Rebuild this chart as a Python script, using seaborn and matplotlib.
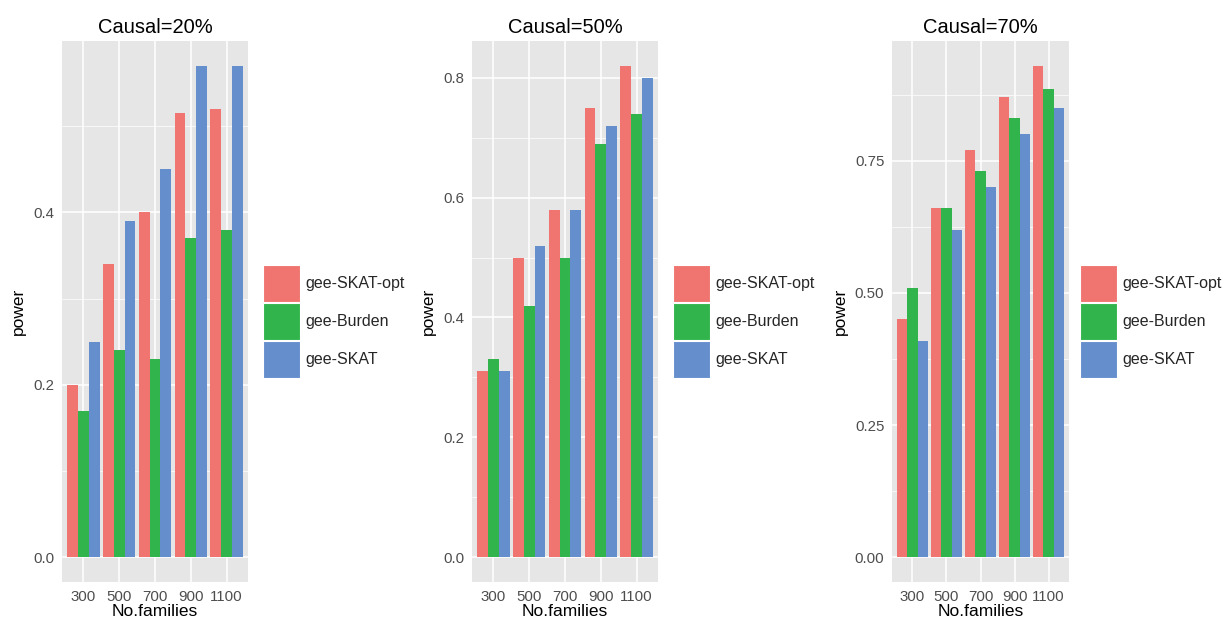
import numpy as np
import pandas as pd
import matplotlib.pyplot as plt
import seaborn as sns
from matplotlib.patches import Patch
from matplotlib.ticker import MultipleLocator

# data
families = ['300', '500', '700', '900', '1100']
methods = ['gee-SKAT-opt', 'gee-Burden', 'gee-SKAT']
palette = ['#F07571', '#31B44B', '#658ECC']

titles = ['Causal=20%', 'Causal=50%', 'Causal=70%']

skat_opt_20 = [0.20, 0.34, 0.40, 0.515, 0.52]
burden_20 = [0.17, 0.24, 0.23, 0.37, 0.38]
skat_20 = [0.25, 0.39, 0.45, 0.57, 0.57]

skat_opt_50 = [0.31, 0.50, 0.58, 0.75, 0.82]
burden_50 = [0.33, 0.42, 0.50, 0.69, 0.74]
skat_50 = [0.31, 0.52, 0.58, 0.72, 0.80]

skat_opt_70 = [0.45, 0.66, 0.77, 0.87, 0.93]
burden_70 = [0.51, 0.66, 0.73, 0.83, 0.885]
skat_70 = [0.41, 0.62, 0.70, 0.80, 0.85]

panels = [
    (skat_opt_20, burden_20, skat_20),
    (skat_opt_50, burden_50, skat_50),
    (skat_opt_70, burden_70, skat_70),
]
major_steps = [0.2, 0.2, 0.25]
tick_fmt = ['{:.1f}', '{:.1f}', '{:.2f}']

sns.set_theme(style='darkgrid')
plt.rcParams['font.family'] = ['Liberation Sans', 'DejaVu Sans']

W, H = 1223, 624
fig = plt.figure(figsize=(W / 100, H / 100), dpi=100)

# axes boxes in pixels: left, right, top, bottom
boxes = [(62, 248, 41, 582), (472, 658, 41, 582), (892, 1069, 41, 582)]
legend_x = [263, 673, 1080]

for i, (vals, box) in enumerate(zip(panels, boxes)):
    l, r, t, b = box
    ax = fig.add_axes([l / W, 1 - b / H, (r - l) / W, (b - t) / H])
    rows = []
    for m, series in zip(methods, vals):
        for f, v in zip(families, series):
            rows.append({'families': f, 'power': v, 'method': m})
    df = pd.DataFrame(rows)

    sns.barplot(data=df, x='families', y='power', hue='method', order=families,
                hue_order=methods, palette=palette, width=0.9, gap=0,
                saturation=1, legend=False, ax=ax, edgecolor='none', linewidth=0)

    ymax = max(max(s) for s in vals)
    ax.set_ylim(-0.05 * ymax, 1.05 * ymax)
    ax.set_xlim(-0.6, 4.6)

    ax.set_facecolor('#E6E6E6')
    step = major_steps[i]
    ax.yaxis.set_major_locator(MultipleLocator(step))
    ax.yaxis.set_minor_locator(MultipleLocator(step / 2))
    ax.grid(which='major', color='white', linewidth=1.1)
    ax.grid(which='minor', axis='y', color='white', linewidth=0.5)
    ax.set_axisbelow(True)
    for s in ax.spines.values():
        s.set_visible(False)

    yt = [v for v in np.arange(0, ymax * 1.05, step)]
    ax.set_yticks(yt)
    ax.set_yticklabels([tick_fmt[i].format(v) for v in yt])
    ax.tick_params(axis='both', which='major', length=3.5, width=0.8,
                   color='#333333', labelsize=10.8, labelcolor='#4D4D4D', pad=2)
    ax.tick_params(axis='both', which='minor', length=0)

    ax.set_title(titles[i], fontsize=14.5, color='black', pad=6)
    ax.set_xlabel('No.families', fontsize=12.5, color='black', labelpad=0)
    ax.set_ylabel('power', fontsize=12.5, color='black', labelpad=5)

    handles = [Patch(facecolor=c, edgecolor='white', linewidth=0.8) for c in palette]
    fig.legend(handles, methods, loc='upper left',
               bbox_to_anchor=(legend_x[i] / W, 1 - 265 / H),
               frameon=False, borderpad=0, borderaxespad=0,
               handlelength=2.3, handleheight=3.2, handletextpad=0.35,
               labelspacing=0.05, fontsize=11.5)

fig.savefig('out.png', dpi=100, facecolor='white')
